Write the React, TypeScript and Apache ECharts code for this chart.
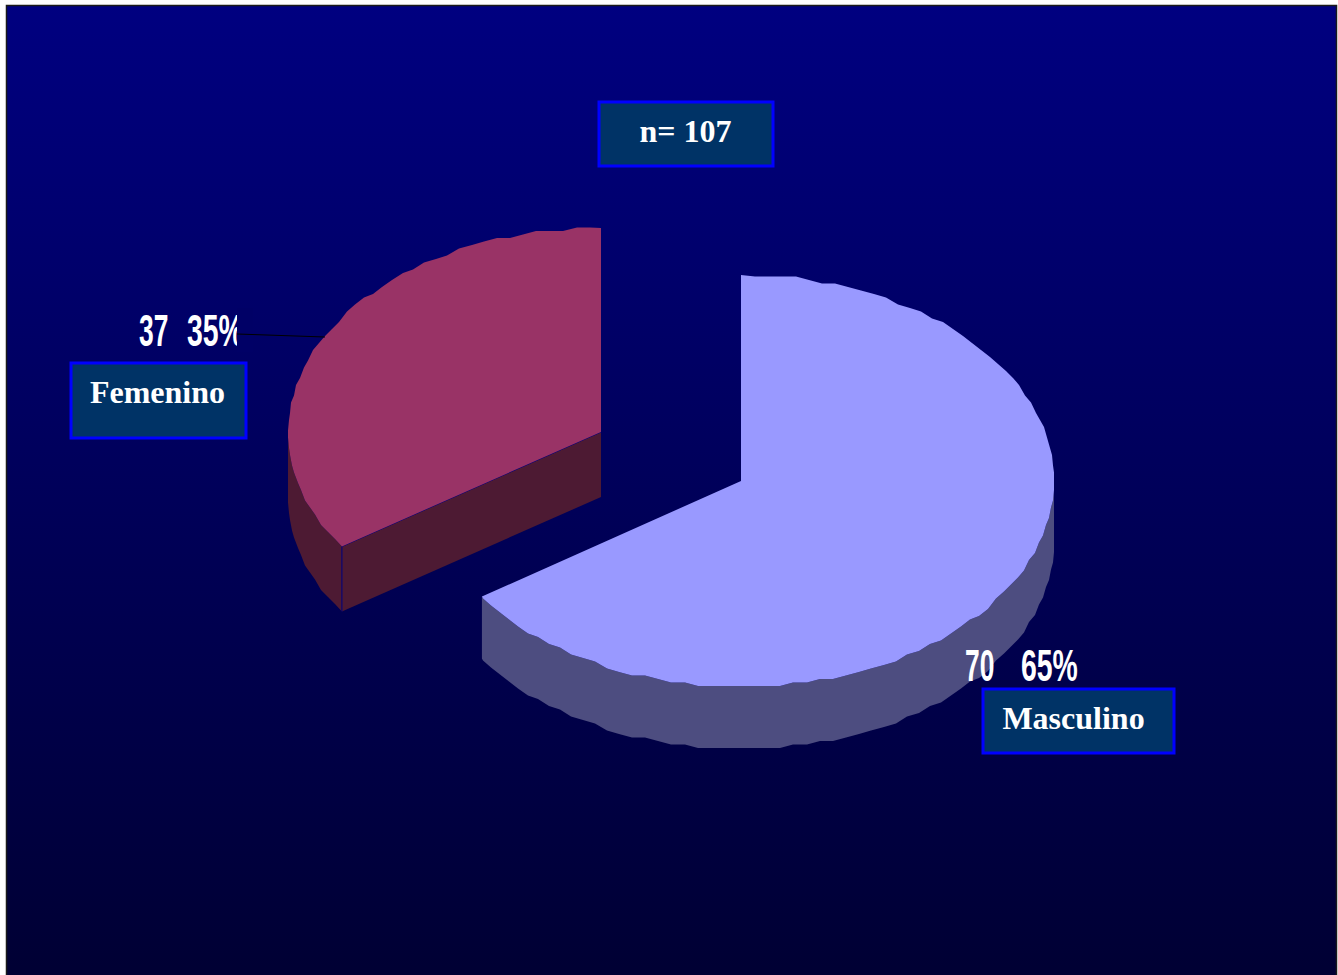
import React, { useEffect, useRef } from "react";
import * as echarts from "echarts";

// Survey sample split by sex
const categories = ["Masculino", "Femenino"];
const counts = [70, 37];
const sampleLabel = "n= 107";

// Drawing geometry of each exploded slice, in page pixels
const sliceShapes = [
  { cx: 741, cy: 481, rx: 313, ry: 206, depth: 62, top: "#9999ff", side: "#4d4d80" },
  { cx: 601, cy: 432, rx: 313, ry: 204, depth: 65, top: "#993366", side: "#4d1a33" },
];
const SNAP_Y = 3.5; // outline vertices step vertically on this coarse grid
const ARC_STEP = 2.5; // degrees between outline vertices
const TILT_DEG = 0.4; // small angular shift the perspective adds around the rim

const total = counts.reduce((a, b) => a + b, 0);

// Angles run clockwise from 12 o'clock, measured on the flattened circle
function rimPoint(s: (typeof sliceShapes)[number], deg: number, dy = 0, exact = false): number[] {
  const shifted = deg + TILT_DEG * Math.sin((deg * Math.PI) / 360);
  const t = (shifted * Math.PI) / 180;
  const x = s.cx + s.rx * Math.sin(t);
  const y = s.cy - s.ry * Math.cos(t);
  if (exact) return [x, y + dy];
  return [Math.round(x), Math.round(y / SNAP_Y) * SNAP_Y + dy];
}

function arcPoints(s: (typeof sliceShapes)[number], from: number, to: number, dy = 0) {
  const pts: number[][] = [rimPoint(s, from, dy, true)];
  for (let a = from + ARC_STEP; a < to; a += ARC_STEP) pts.push(rimPoint(s, a, dy));
  pts.push(rimPoint(s, to, dy, true));
  return pts;
}

function renderSlice(params: any, api: any) {
  const index = params.dataIndex;
  const s = sliceShapes[index];
  const before = counts.slice(0, index).reduce((a, b) => a + b, 0);
  const from = (before / total) * 360;
  const to = from + (api.value(0) / total) * 360;
  const children: any[] = [];

  // Outer wall: only the front half of the rim faces the viewer
  const wallFrom = Math.max(from, 90);
  const wallTo = Math.min(to, 270);
  if (wallFrom < wallTo) {
    const upper = arcPoints(s, wallFrom, wallTo);
    const lower = arcPoints(s, wallFrom, wallTo, s.depth);
    children.push({
      type: "polygon",
      shape: { points: [...upper, ...lower.reverse()] },
      style: { fill: s.side },
    });
  }

  // Cut face that turns towards the viewer
  if (to >= 360) {
    const rim = rimPoint(s, from, 0, true);
    const hub = [s.cx, s.cy];
    children.push({
      type: "polygon",
      shape: { points: [hub, rim, [rim[0], rim[1] + s.depth], [hub[0], hub[1] + s.depth]] },
      style: { fill: s.side },
    });
    children.push({
      type: "polyline",
      shape: { points: [hub, rim, [rim[0], rim[1] + s.depth]] },
      style: { fill: "none", stroke: "#000080", lineWidth: 1 },
    });
  }

  // Top face
  children.push({
    type: "polygon",
    shape: { points: [[s.cx, s.cy], ...arcPoints(s, from, to)] },
    style: { fill: s.top },
  });
  return { type: "group", children };
}

const boxStyle = { fill: "#003366", stroke: "#0000ff", lineWidth: 3 };
const boxFont = 'bold 32px "Liberation Serif", serif';
const countFont = 'bold 44px "Liberation Sans", sans-serif';

function box(x: number, y: number, w: number, h: number, text: string, textX: number, textY: number) {
  return [
    { type: "rect", z: 20, shape: { x, y, width: w, height: h }, style: boxStyle },
    {
      type: "text",
      z: 21,
      x: textX,
      y: textY,
      style: {
        text,
        font: boxFont,
        fill: "#ffffff",
        textAlign: "center",
        textVerticalAlign: "middle",
      },
    },
  ];
}

function squeezed(x: number, y: number, text: string, scaleX = 0.6) {
  return {
    type: "text",
    z: 21,
    x,
    y,
    scaleX,
    style: { text, font: countFont, fill: "#ffffff", textAlign: "left", textVerticalAlign: "middle" },
  };
}

const pct = (v: number) => `${Math.round((v / total) * 100)}%`;

export default function App() {
  const ref = useRef<HTMLDivElement>(null);

  useEffect(() => {
    document.body.style.margin = "0";
    document.body.style.background = "#ffffff";
    const chart = echarts.init(ref.current!, null, { renderer: "svg" });
    chart.setOption({
      animation: false,
      backgroundColor: "#ffffff",
      graphic: {
        elements: [
          {
            type: "rect",
            z: -5,
            shape: { x: 6.5, y: 5.5, width: 1330, height: 975 },
            style: {
              stroke: "#1a1a1a",
              lineWidth: 1.5,
              fill: {
                type: "linear",
                x: 0,
                y: 0,
                x2: 0,
                y2: 1,
                colorStops: [
                  { offset: 0, color: "#000080" },
                  { offset: 1, color: "#000033" },
                ],
              },
            },
          },
          squeezed(139, 331, String(counts[1])),
          squeezed(187, 331, pct(counts[1]), 0.645),
          // The percent sign is cut off by the label's frame
          {
            type: "rect",
            z: 22,
            shape: { x: 237, y: 308, width: 16, height: 44 },
            style: { fill: "#000066" },
          },
          // Leader line from the Femenino figures to its slice
          {
            type: "line",
            z: 23,
            shape: { x1: 237, y1: 334, x2: 325, y2: 337 },
            style: { stroke: "#000000", lineWidth: 1 },
          },
          squeezed(965, 666, String(counts[0])),
          squeezed(1021, 666, pct(counts[0]), 0.645),
          ...box(599, 102, 174, 64, sampleLabel, 685.5, 131),
          ...box(71, 363, 175, 75, categories[1], 157.5, 392),
          ...box(983, 689, 191, 64, categories[0], 1073.5, 718),
        ],
      },
      series: [
        {
          type: "custom",
          coordinateSystem: "none",
          z: 5,
          silent: true,
          renderItem: renderSlice,
          data: counts.map((v, i) => ({ name: categories[i], value: [v] })),
        },
      ],
    });
    return () => chart.dispose();
  }, []);

  return <div ref={ref} style={{ width: 1338, height: 975, overflow: "hidden" }} />;
}
